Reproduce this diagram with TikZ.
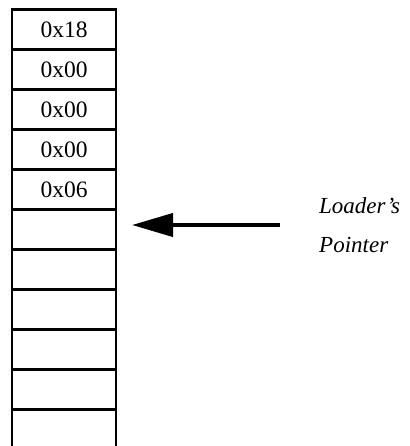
\documentclass[tikz,border=0pt]{standalone}
\usepackage{fontspec}
\setmainfont{Liberation Serif}
\usetikzlibrary{arrows.meta}
\begin{document}
\begin{tikzpicture}[x=1pt,y=-1pt,
  cell/.style={draw=black, line width=2.4pt, minimum width=104pt, minimum height=40pt,
    inner sep=0pt, font=\fontsize{23.5}{26}\selectfont},
  pointer/.style={line width=4pt, -{Triangle[length=41pt,width=23pt]}},
  note/.style={font=\fontsize{23}{39}\selectfont\itshape, align=left, inner sep=0pt}]
\useasboundingbox (0,0) rectangle (409,446);
\clip (0,0) rectangle (409,446);
% memory column, one byte per cell
\foreach \v [count=\i from 0] in {0x18,0x00,0x00,0x00,0x06,{},{},{},{},{},{}} {
  \node[cell] (c\i) at (64,29.5+40*\i) {\v};
}
% loader's pointer
\coordinate (tail) at (280,225);
\coordinate (tip) at (132,225);
\draw[pointer] (tail) -- (tip);
\node[note, anchor=north west] (lbl) at (319,197) {Loader's\\Pointer};
\end{tikzpicture}
\end{document}
